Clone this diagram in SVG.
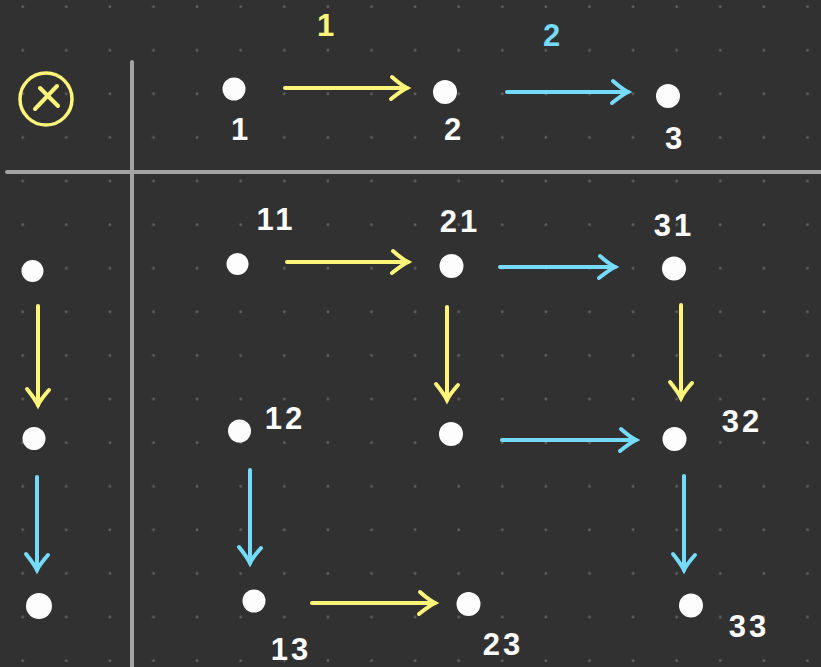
<svg xmlns="http://www.w3.org/2000/svg" width="821" height="667" viewBox="0 0 821 667">
<style>
.dot{fill:#fdfdfd}
.lbl{font-family:"Liberation Sans","DejaVu Sans",sans-serif;font-size:31px;font-weight:bold;fill:#fdfdfd;text-anchor:middle;letter-spacing:3px}
.y{stroke:#fdf57a;stroke-width:4;stroke-linecap:round;fill:none}
.c{stroke:#74dcfa;stroke-width:4;stroke-linecap:round;fill:none}
.axis{stroke:#a3a3a3;stroke-width:4;stroke-linecap:round}
</style>
<defs>
<pattern id="grid" patternUnits="userSpaceOnUse" width="43.6" height="43.6">
<circle cx="22.7" cy="6.7" r="1.4" fill="#5f5f5f"/>
</pattern>
<marker id="ay" markerUnits="userSpaceOnUse" orient="auto" refX="0" refY="0" markerWidth="40" markerHeight="40" overflow="visible">
<path d="M-15,-11 Q-6,-3 0,0 Q-6,3 -16,11" stroke="#fdf57a" stroke-width="4" stroke-linecap="round" fill="none"/>
</marker>
<marker id="ac" markerUnits="userSpaceOnUse" orient="auto" refX="0" refY="0" markerWidth="40" markerHeight="40" overflow="visible">
<path d="M-15,-11 Q-6,-3 0,0 Q-6,3 -16,11" stroke="#74dcfa" stroke-width="4" stroke-linecap="round" fill="none"/>
</marker>
</defs>
<rect width="821" height="667" fill="#313131"/>
<rect width="821" height="667" fill="url(#grid)"/>

<g id="axes">
<line class="axis" x1="132" y1="62" x2="132" y2="667"/>
<line class="axis" x1="7" y1="172" x2="821" y2="172"/>
</g>

<g id="tensor">
<circle cx="46" cy="99" r="26" fill="none" stroke="#fdf57a" stroke-width="3.5"/>
<line x1="35" y1="109" x2="57" y2="86" stroke="#fdf57a" stroke-width="4" stroke-linecap="round"/>
<line x1="40" y1="88" x2="58" y2="106" stroke="#fdf57a" stroke-width="4" stroke-linecap="round"/>
</g>

<g id="edge-labels">
<text class="lbl" x="327" y="36" style="fill:#fdf57a">1</text>
<text class="lbl" x="553" y="46" style="fill:#74dcfa">2</text>
</g>

<g id="n1"><circle class="dot" cx="234" cy="89" r="11.5"/><text class="lbl" x="241" y="140">1</text></g>
<g id="n2"><circle class="dot" cx="445" cy="92" r="12"/><text class="lbl" x="454" y="140">2</text></g>
<g id="n3"><circle class="dot" cx="668" cy="96" r="12"/><text class="lbl" x="675" y="149">3</text></g>

<g id="l1"><circle class="dot" cx="32.5" cy="271" r="11"/></g>
<g id="l2"><circle class="dot" cx="34" cy="438.5" r="11.5"/></g>
<g id="l3"><circle class="dot" cx="39" cy="606" r="13"/></g>

<g id="n11"><circle class="dot" cx="237.5" cy="264" r="11"/><text class="lbl" x="276" y="230">11</text></g>
<g id="n21"><circle class="dot" cx="451.5" cy="266" r="12"/><text class="lbl" x="460" y="232">21</text></g>
<g id="n31"><circle class="dot" cx="674" cy="268.5" r="12"/><text class="lbl" x="674" y="236">31</text></g>
<g id="n12"><circle class="dot" cx="239.5" cy="431" r="11.5"/><text class="lbl" x="285" y="429">12</text></g>
<g id="n22"><circle class="dot" cx="451" cy="434" r="12"/></g>
<g id="n32"><circle class="dot" cx="674.5" cy="439" r="12"/><text class="lbl" x="742" y="432">32</text></g>
<g id="n13"><circle class="dot" cx="254" cy="601" r="11.5"/><text class="lbl" x="291" y="660">13</text></g>
<g id="n23"><circle class="dot" cx="468.5" cy="604" r="12"/><text class="lbl" x="503" y="655">23</text></g>
<g id="n33"><circle class="dot" cx="691" cy="605.5" r="12"/><text class="lbl" x="749" y="637">33</text></g>

<g id="connectors">
<path class="y" d="M285,88 L407,88" marker-end="url(#ay)"/>
<path class="c" d="M507,92 L628,92" marker-end="url(#ac)"/>
<path class="y" d="M38,306 L38,405" marker-end="url(#ay)"/>
<path class="c" d="M37,477 L37,570" marker-end="url(#ac)"/>
<path class="y" d="M287,262 L408,262" marker-end="url(#ay)"/>
<path class="c" d="M500,267 L615,267" marker-end="url(#ac)"/>
<path class="y" d="M447,307 L447,400" marker-end="url(#ay)"/>
<path class="y" d="M681,305 L681,398" marker-end="url(#ay)"/>
<path class="c" d="M502,440 L636,440" marker-end="url(#ac)"/>
<path class="c" d="M250,470 L250,563" marker-end="url(#ac)"/>
<path class="c" d="M684,476 L684,570" marker-end="url(#ac)"/>
<path class="y" d="M312,603 L435,603" marker-end="url(#ay)"/>
</g>
</svg>
